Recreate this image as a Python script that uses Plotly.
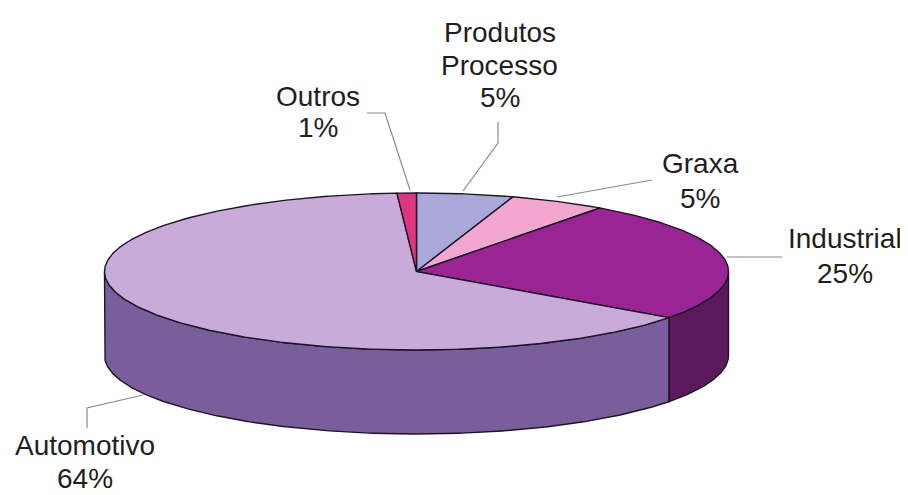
import numpy as np
import plotly.graph_objects as go

# ---- data ----
categories = ["Produtos<br>Processo", "Graxa", "Industrial", "Automotivo", "Outros"]
values = [5, 5, 25, 64, 1]

# ---- style / layout ----
top_colors = ["#a9a9d9", "#f3a6d0", "#9a2494", "#c9aad8", "#e0357f"]
side_colors = ["#7f7fb0", "#c07aa0", "#5a1a5c", "#7a5e9b", "#a82060"]
CX, CY, RX, RY, DEPTH = 416.5, 271.5, 312.0, 78.5, 84.0
EDGE = "#1c1428"
FONT_SIZE = 28
# label centre x and the vertical centre of each text line (category lines..., percent line)
label_pos = {
    "Produtos<br>Processo": (499.5, [32.7, 65.0, 97.0]),
    "Graxa": (700, [163.0, 198.0]),
    "Industrial": (845, [238.0, 273.0]),
    "Automotivo": (85, [445.0, 478.0]),
    "Outros": (317.5, [96.0, 127.5]),
}
leader_paths = {
    "Produtos<br>Processo": [(463, 191), (498, 143), (498, 122)],
    "Graxa": [(557, 197), (652, 180)],
    "Industrial": [(727, 257), (782, 257)],
    "Automotivo": [(143, 395), (87, 408), (87, 428)],
    "Outros": [(410, 190), (385, 113), (367, 113)],
}
PAGE_MARGIN = 8  # default body margin of the html page


def ell(theta_deg, dy=0.0):
    t = np.radians(theta_deg)
    return CX + RX * np.sin(t), CY - RY * np.cos(t) + dy


total = float(sum(values))
bounds = np.concatenate([[0.0], np.cumsum(values) / total * 360.0])

fig = go.Figure()

# side walls (front half only: 90..270 deg clockwise from top)
for i, v in enumerate(values):
    a, b = bounds[i], bounds[i + 1]
    lo, hi = max(a, 90.0), min(b, 270.0)
    if hi <= lo:
        continue
    th = np.linspace(lo, hi, max(4, int((hi - lo) * 2)))
    xt, yt = ell(th)
    xb, yb = ell(th[::-1], DEPTH)
    xs = np.concatenate([xt, xb, xt[:1]])
    ys = np.concatenate([yt, yb, yt[:1]])
    fig.add_trace(go.Scatter(x=xs, y=ys, mode="lines", fill="toself",
                             fillcolor=side_colors[i],
                             line=dict(color=EDGE, width=1.4),
                             hoverinfo="skip", showlegend=False))

# top faces
for i, v in enumerate(values):
    a, b = bounds[i], bounds[i + 1]
    th = np.linspace(a, b, max(4, int((b - a) * 2)))
    xa, ya = ell(th)
    xs = np.concatenate([[CX], xa, [CX]])
    ys = np.concatenate([[CY], ya, [CY]])
    fig.add_trace(go.Scatter(x=xs, y=ys, mode="lines", fill="toself",
                             fillcolor=top_colors[i],
                             line=dict(color=EDGE, width=1.4),
                             hoverinfo="skip", showlegend=False))

# leader lines
for name, pts in leader_paths.items():
    fig.add_trace(go.Scatter(x=[p[0] for p in pts], y=[p[1] for p in pts],
                             mode="lines", line=dict(color="#8a8a8a", width=1.2),
                             hoverinfo="skip", showlegend=False))

# labels
for i, v in enumerate(values):
    name = categories[i]
    x, ys = label_pos[name]
    pct = round(v / total * 100)
    lines = name.split("<br>") + [f"{pct}%"]
    for txt, y in zip(lines, ys):
        fig.add_annotation(x=x, y=y, xref="x", yref="y", showarrow=False,
                           text=txt, xanchor="center", yanchor="middle",
                           borderpad=0,
                           font=dict(family="Liberation Sans, Arial, sans-serif",
                                     size=FONT_SIZE, color="#1e1e1e"))

W, H = 908, 495
fig.update_layout(
    width=W - PAGE_MARGIN, height=H - PAGE_MARGIN,
    margin=dict(l=0, r=0, t=0, b=0),
    paper_bgcolor="white", plot_bgcolor="white",
    xaxis=dict(range=[PAGE_MARGIN, W], visible=False, fixedrange=True),
    yaxis=dict(range=[H, PAGE_MARGIN], visible=False, fixedrange=True),
)

fig.write_html("out.html")
